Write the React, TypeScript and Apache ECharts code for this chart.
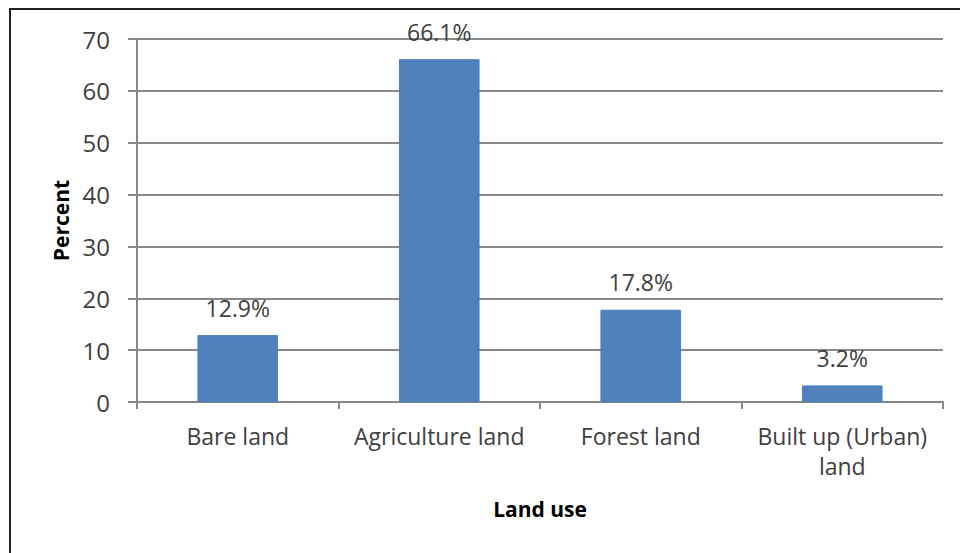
import React, { useEffect, useRef } from "react";
import * as echarts from "echarts";

const categories = ["Bare land", "Agriculture land", "Forest land", "Built up (Urban)\nland"];
const values = [12.9, 66.1, 17.8, 3.2];
const yTicks = { min: 0, max: 70, interval: 10 };

const FONT = "Open Sans";
const TEXT = "#404040";
const GRID = "#888888";

export default function App() {
  const ref = useRef<HTMLDivElement>(null);
  useEffect(() => {
    document.body.style.margin = "0";
    if (!ref.current) return;
    const chart = echarts.init(ref.current, undefined, { renderer: "svg" });
    chart.setOption({
      animation: false,
      backgroundColor: "#ffffff",
      grid: { left: 137, right: 17, top: 39, bottom: 151, containLabel: false },
      graphic: [
        { type: "line", shape: { x1: 10, y1: 8, x2: 10, y2: 553 }, style: { stroke: "#222", lineWidth: 2 } },
        { type: "line", shape: { x1: 9, y1: 9, x2: 960, y2: 9 }, style: { stroke: "#222", lineWidth: 2 } },
      ],
      xAxis: {
        type: "category",
        data: categories,
        name: "Land use",
        nameLocation: "middle",
        nameGap: 96,
        nameTextStyle: { fontFamily: FONT, fontSize: 21, fontWeight: "bold", color: "#000" },
        axisLine: { lineStyle: { color: GRID, width: 2 } },
        axisTick: { show: true, length: 7, lineStyle: { color: GRID, width: 2 } },
        axisLabel: { fontFamily: FONT, fontSize: 23, color: TEXT, margin: 19, lineHeight: 30, interval: 0 },
      },
      yAxis: {
        type: "value",
        min: yTicks.min,
        max: yTicks.max,
        interval: yTicks.interval,
        name: "Percent",
        nameLocation: "middle",
        nameGap: 63,
        nameRotate: 90,
        nameTextStyle: { fontFamily: FONT, fontSize: 21, fontWeight: "bold", color: "#000" },
        axisLine: { show: true, lineStyle: { color: GRID, width: 2 } },
        axisTick: { show: true, length: 9, lineStyle: { color: GRID, width: 2 } },
        axisLabel: { fontFamily: FONT, fontSize: 24, color: TEXT, margin: 27 },
        splitLine: { show: true, lineStyle: { color: GRID, width: 2 } },
      },
      series: [
        {
          type: "bar",
          data: values,
          barWidth: "40%",
          itemStyle: { color: "#4F81BD", borderColor: "#4A7EBB", borderWidth: 1 },
          label: {
            show: true,
            position: "top",
            distance: 16,
            formatter: (p: any) => p.value.toFixed(1) + "%",
            fontFamily: FONT,
            fontSize: 23,
            color: TEXT,
          },
        },
      ],
    });
    return () => chart.dispose();
  }, []);
  return <div ref={ref} style={{ width: 960, height: 553 }} />;
}
